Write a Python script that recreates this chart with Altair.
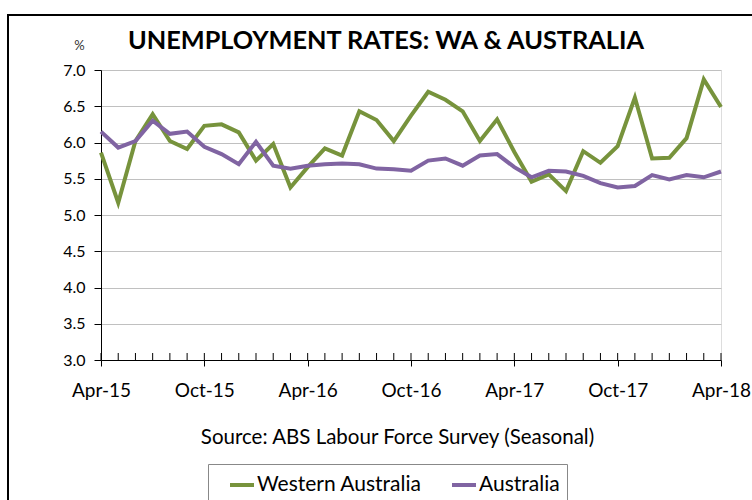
import altair as alt
import pandas as pd

months = ["Apr-15", "May-15", "Jun-15", "Jul-15", "Aug-15", "Sep-15", "Oct-15", "Nov-15", "Dec-15",
          "Jan-16", "Feb-16", "Mar-16", "Apr-16", "May-16", "Jun-16", "Jul-16", "Aug-16", "Sep-16",
          "Oct-16", "Nov-16", "Dec-16", "Jan-17", "Feb-17", "Mar-17", "Apr-17", "May-17", "Jun-17",
          "Jul-17", "Aug-17", "Sep-17", "Oct-17", "Nov-17", "Dec-17", "Jan-18", "Feb-18", "Mar-18",
          "Apr-18"]

wa = [5.86, 5.17, 6.02, 6.39, 6.02, 5.91, 6.23, 6.25, 6.14, 5.75, 5.98, 5.38,
      5.66, 5.92, 5.82, 6.43, 6.31, 6.02, 6.37, 6.70, 6.59, 6.43, 6.02, 6.32,
      5.87, 5.46, 5.56, 5.33, 5.88, 5.72, 5.95, 6.62, 5.78, 5.79, 6.06, 6.87,
      6.49]

aus = [6.15, 5.93, 6.02, 6.30, 6.12, 6.15, 5.94, 5.84, 5.70, 6.01, 5.68, 5.64,
       5.68, 5.70, 5.71, 5.70, 5.64, 5.63, 5.61, 5.75, 5.78, 5.68, 5.82, 5.84,
       5.66, 5.52, 5.61, 5.60, 5.54, 5.44, 5.38, 5.40, 5.55, 5.49, 5.55, 5.52,
       5.60]

series_names = ["Western Australia", "Australia"]
series_colors = ["#77933C", "#8064A2"]
major_labels = ["Apr-15", "Oct-15", "Apr-16", "Oct-16", "Apr-17", "Oct-17", "Apr-18"]
y_ticks = [3.0, 3.5, 4.0, 4.5, 5.0, 5.5, 6.0, 6.5, 7.0]
title_text = "UNEMPLOYMENT RATES: WA & AUSTRALIA"

df = pd.DataFrame({
    "Month": months * 2,
    "Rate": wa + aus,
    "Series": [series_names[0]] * len(wa) + [series_names[1]] * len(aus),
})
ticks_df = pd.DataFrame({"Month": months})

FONT = "Lato"

x_enc = alt.X(
    "Month:O",
    sort=months,
    scale=alt.Scale(type="point", padding=0),
    axis=alt.Axis(
        values=major_labels,
        labelAngle=0,
        labelFontSize=19,
        labelFont=FONT,
        labelColor="black",
        labelPadding=15,
        tickSize=6,
        tickColor="black",
        domainColor="black",
        grid=False,
        title="Source: ABS Labour Force Survey (Seasonal)",
        titleFontSize=20.5,
        titleFont=FONT,
        titleFontWeight="normal",
        titleColor="black",
        titleX=296,
        titleY=83,
        titleBaseline="alphabetic",
    ),
)

lines = alt.Chart(df).mark_line(strokeWidth=4).encode(
    x=x_enc,
    y=alt.Y(
        "Rate:Q",
        scale=alt.Scale(domain=[3, 7], nice=False, zero=False),
        axis=alt.Axis(
            values=y_ticks,
            format=".1f",
            labelFontSize=16,
            labelFont=FONT,
            labelColor="black",
            labelPadding=9,
            tickSize=7,
            tickColor="black",
            domainColor="black",
            gridColor="#C0C0C0",
            gridWidth=1,
            title="%",
            titleAngle=0,
            titleFontSize=13,
            titleFont=FONT,
            titleFontWeight="normal",
            titleColor="#333",
            titleX=-22,
            titleY=-18,
            titleAlign="center",
        ),
    ),
    color=alt.Color(
        "Series:N",
        sort=series_names,
        scale=alt.Scale(domain=series_names, range=series_colors),
        legend=alt.Legend(
            title=None,
            orient="none",
            legendX=107,
            legendY=394,
            direction="horizontal",
            symbolType="stroke",
            symbolSize=576,
            symbolStrokeWidth=4,
            symbolOffset=13,
            labelFontSize=21,
            labelFont=FONT,
            labelColor="black",
            labelOffset=1,
            labelLimit=0,
            columnPadding=15,
            padding=7,
            strokeColor="#888888",
        ),
    ),
)

minor = alt.Chart(ticks_df).mark_rule(color="black", strokeWidth=1).encode(
    x=alt.X("Month:O", sort=months, scale=alt.Scale(type="point", padding=0)),
    y=alt.value(290),
    y2=alt.value(283),
)

frame = alt.Chart(alt.Data(values=[{"a": 1}])).mark_rect(
    fill="transparent", stroke="black", strokeWidth=2
).encode(
    x=alt.value(-93),
    x2=alt.value(700),
    y=alt.value(-55),
    y2=alt.value(500),
)

title = alt.Chart(alt.Data(values=[{"t": title_text}])).mark_text(
    font=FONT, fontSize=25.3, fontWeight="bold", color="black",
    align="center", baseline="alphabetic",
).encode(
    text="t:N",
    x=alt.value(285),
    y=alt.value(-21),
)

chart = alt.layer(frame, lines, minor, title).properties(
    width=620,
    height=290,
    autosize=alt.AutoSizeParams(type="none"),
    padding={"left": 101, "top": 70, "right": 31, "bottom": 140},
).configure_view(
    stroke="#888888", strokeWidth=1
).configure(background="white")

chart.save("out.html", embed_options={"renderer": "svg", "actions": False})
